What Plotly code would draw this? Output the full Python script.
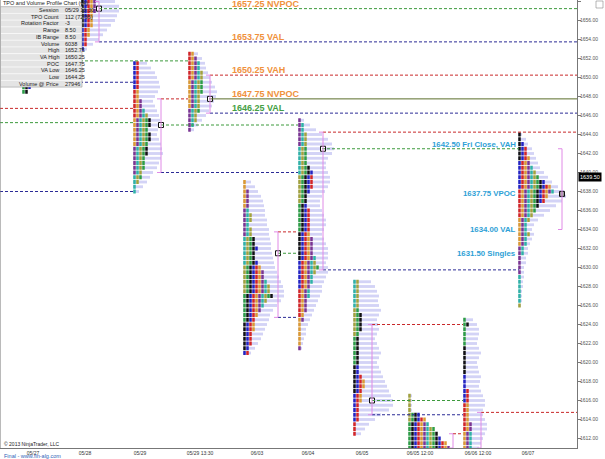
import plotly.graph_objects as go

# ---------------- data ----------------
session_labels = ["05/27", "05/28", "05/29", "05/29 13:30", "06/03", "06/04",
                  "06/05", "06/05 12:00", "06/06 12:00", "06/07"]
tick_pos = [33, 85, 140, 200, 257, 308, 362, 420, 478, 528]
session_x = [22, 81, 133, 188, 243, 298, 353, 408, 463, 518]
profile_high = [1649.0, 1658.0, 1651.5, 1652.5, 1639.0, 1645.5, 1628.5, 1616.5, 1624.5, 1644.0]

# TPO counts per 0.5-point row, from the profile high downwards
tpo_0527 = [3, 2]
tpo_0528 = [5, 5, 5, 4, 4, 4, 3, 3, 2, 2, 1]
tpo_0529 = [2, 2, 2, 2, 2, 2, 2, 2, 3, 3, 4, 5, 6, 6, 5, 6, 6, 5, 5, 5, 4, 4, 4, 3, 3, 2, 1, 1]
tpo_0529b = [2, 3, 4, 4, 5, 5, 5, 5, 5, 4, 4, 4, 4, 3, 3, 2, 1]
tpo_0603 = [1, 1, 2, 2, 2, 2, 2, 3, 3, 2, 3, 3, 4, 4, 5, 4, 4, 5, 6, 7, 7, 8, 9, 9, 10, 8, 7, 6,
            5, 4, 4, 4, 3, 3, 3, 2, 2]
tpo_0604 = [1, 2, 2, 3, 3, 3, 3, 3, 3, 3, 4, 5, 5, 5, 5, 4, 3, 3, 3, 4, 4, 4, 4, 4, 4, 5, 5, 5,
            5, 6, 6, 7, 6, 5, 5, 4, 4, 4, 3, 3, 3, 2, 2, 1, 1, 1, 1, 1, 1]
tpo_0605 = [2, 2, 2, 2, 2, 2, 2, 3, 3, 3, 3, 2, 2, 2, 2, 2, 2, 2, 2, 2, 3, 4, 4, 3, 3, 3, 2, 2,
            2, 2, 1, 1, 1]
tpo_0605b = [1, 1, 1, 1, 4, 6, 7, 9, 10, 11, 13, 14]
tpo_0606 = [1, 2, 1, 1, 1, 1, 1, 1, 1, 1, 1, 1, 1, 1, 1, 2, 2, 2, 2, 2, 2, 2, 3, 3, 3, 3, 3, 3]
tpo_0607 = [1, 1, 2, 3, 3, 4, 4, 5, 6, 7, 9, 11, 12, 10, 9, 7, 6, 5, 4, 3, 3, 4, 3, 3, 2, 2, 1,
            1, 1, 1, 1, 1, 1, 1, 1, 1, 1]

# volume-at-price bar lengths per row
vol_0527 = [8, 5]
vol_0528 = [34, 38, 38, 36, 34, 30, 26, 22, 18, 12, 6]
vol_0529 = [14, 18, 22, 24, 26, 27, 25, 22, 20, 22, 24, 26, 27, 26, 25, 24, 26, 28, 29, 30, 28,
            26, 24, 20, 17, 14, 10, 6]
vol_0529b = [10, 14, 17, 18, 20, 22, 24, 27, 29, 28, 26, 24, 21, 18, 14, 10, 6]
vol_0603 = [8, 12, 15, 18, 20, 21, 22, 22, 24, 24, 26, 26, 27, 28, 28, 29, 30, 31, 32, 34, 36,
            38, 40, 41, 41, 38, 34, 30, 27, 26, 24, 22, 20, 18, 15, 12, 8]
vol_0604 = [6, 12, 18, 24, 30, 34, 36, 34, 30, 28, 28, 30, 32, 32, 30, 27, 24, 22, 22, 24, 26,
            28, 28, 26, 24, 26, 28, 30, 30, 30, 28, 30, 30, 28, 26, 24, 24, 22, 20, 18, 16, 14,
            12, 10, 8, 8, 6, 5, 4]
vol_0605 = [18, 22, 24, 26, 25, 26, 28, 26, 24, 25, 26, 24, 22, 24, 26, 28, 26, 24, 26, 28, 30,
            32, 34, 36, 38, 40, 40, 36, 28, 22, 16, 12, 8]
vol_0605b = [4, 4, 4, 4, 8, 10, 12, 14, 16, 18, 20, 22]
vol_0606 = [10, 14, 16, 16, 15, 14, 16, 18, 16, 14, 15, 16, 18, 17, 16, 18, 20, 22, 22, 20, 20,
            22, 24, 24, 22, 20, 18, 16]
vol_0607 = [4, 8, 10, 14, 16, 18, 20, 22, 26, 30, 34, 40, 46, 48, 44, 38, 32, 26, 20, 16, 14,
            16, 14, 12, 10, 10, 8, 8, 6, 6, 6, 5, 5, 4, 4, 4, 3]

tpo_counts = [tpo_0527, tpo_0528, tpo_0529, tpo_0529b, tpo_0603, tpo_0604, tpo_0605,
              tpo_0605b, tpo_0606, tpo_0607]
vol_counts = [vol_0527, vol_0528, vol_0529, vol_0529b, vol_0603, vol_0604, vol_0605,
              vol_0605b, vol_0606, vol_0607]

# value areas / POC per profile
poc_price = [None, 1657.25, 1645.0, 1647.75, 1631.5, 1642.5, 1616.0, None, None, 1637.75]
va_high = [None, 1658.0, 1647.75, 1650.25, 1633.75, 1644.25, 1624.0, 1612.5, 1614.75, 1642.5]
va_low = [None, 1653.75, 1640.0, 1646.25, 1624.75, 1629.75, 1614.5, 1611.0, 1611.0, 1634.0]
bracket_x = [None, 99, 161, 210, 278, 323, 372, 453, 481, 562]

# extended reference levels
level_price = [1657.25, 1653.75, 1651.75, 1649.5, 1650.25, 1647.75, 1647.75, 1646.75, 1645.25,
               1646.25, 1645.0, 1640.0, 1644.25, 1642.5, 1638.0, 1633.75, 1631.5, 1624.75,
               1629.75, 1624.0, 1616.0, 1614.5, 1614.75, 1612.5]
level_kind = ["poc", "val", "poc", "val", "vah", "npoc", "vah", "vah", "poc", "val", "poc", "val",
              "vah", "poc", "val", "vah", "poc", "val", "val", "vah", "poc", "val", "vah", "vah"]
level_x0 = [99, 99, 30, 30, 210, 209, 161, 0, 0, 210, 161, 161, 323, 322, 0, 278, 278, 278, 323,
            372, 372, 372, 481, 453]
level_x1 = [577, 577, 188, 133, 577, 577, 188, 133, 133, 577, 298, 298, 577, 519, 133, 298, 298,
            298, 519, 463, 463, 463, 577, 463]

last_price = 1639.50

table_labels = ["Session", "TPO Count", "Rotation Factor", "Range", "IB Range", "Volume",
                "High", "VA High", "POC", "VA Low", "Low", "Volume @ Price"]
table_values = ["05/29 13:30", "112 (72/35)", "-3", "8.50", "8.50", "6038", "1652.75",
                "1650.25", "1647.75", "1646.25", "1644.25", "27946"]

# ---------------- figure ----------------
W, H = 605, 459
ML, MR, MT, MB = 0, 28, 0, 11
PW, PH = W - ML - MR, H - MT - MB
Y_TOP = 1656 + 20.5 / 9.5
Y_BOT = 1656 - (PH - 20.5) / 9.5

palette = ["#2e9e44", "#111111", "#2323c2", "#d42525", "#dc9a32", "#7b3590", "#2fb3a6",
           "#a3a33c"]
NC = len(palette)

fig = go.Figure()

# volume profiles (behind)
for i in range(len(session_x)):
    prices = [profile_high[i] - 0.5 * r for r in range(len(vol_counts[i]))]
    fig.add_trace(go.Bar(orientation="h", y=prices, x=vol_counts[i], base=session_x[i],
                         width=0.3, marker=dict(color="#d3d3f6", line=dict(width=0)),
                         hoverinfo="skip"))

# TPO blocks (one bar per letter cell)
for i in range(len(session_x)):
    counts = tpo_counts[i]
    ys, bases, cols = [], [], []
    for r, c in enumerate(counts):
        price = profile_high[i] - 0.5 * r
        for k in range(c):
            ys.append(price)
            bases.append(session_x[i] + 3 * k + 0.25)
            cols.append(palette[((r // 6) + k + i) % NC])
    fig.add_trace(go.Bar(orientation="h", y=ys, x=[2.5] * len(ys), base=bases, width=0.42,
                         marker=dict(color=cols, line=dict(width=0)), hoverinfo="skip"))

shapes = []
kind_color = {"vah": "#c8282a", "poc": "#3d9a3d", "val": "#2b2b96", "npoc": "#5b6e2a"}
for p, k, a, b in zip(level_price, level_kind, level_x0, level_x1):
    shapes.append(dict(type="line", xref="x", yref="y", x0=a, x1=b, y0=p, y1=p,
                       line=dict(color=kind_color[k], width=1,
                                 dash="solid" if k == "npoc" else "3px,2px")))

# value-area brackets
for i in range(len(session_x)):
    if bracket_x[i] is None:
        continue
    bx = bracket_x[i]
    lc = dict(color="#e08ae6", width=1)
    shapes.append(dict(type="line", xref="x", yref="y", x0=bx, x1=bx, y0=va_low[i],
                       y1=va_high[i], line=lc))
    for yy in (va_low[i], va_high[i]):
        shapes.append(dict(type="line", xref="x", yref="y", x0=bx - 4, x1=bx, y0=yy, y1=yy,
                           line=lc))

# POC markers
px_, py_, pc_ = [], [], []
for i in range(len(session_x)):
    if poc_price[i] is not None:
        px_.append(bracket_x[i])
        py_.append(poc_price[i])
        pc_.append("#9a9a9a" if i == len(session_x) - 1 else "#ffffff")
fig.add_trace(go.Scatter(x=px_, y=py_, mode="markers", hoverinfo="skip",
                         marker=dict(symbol="square", size=5, color=pc_,
                                     line=dict(color="#111111", width=1))))


def xp(px):
    return (px - ML) / PW


def yp(py):
    return 1 - (py - MT) / PH


# left border
shapes.append(dict(type="line", xref="paper", yref="paper", x0=0, x1=0, y0=0, y1=1,
                   line=dict(color="#777777", width=1)))

# info table
row_h = 6.7
tbl_top = 6.7
tbl_bot = tbl_top + row_h * len(table_labels)
shapes.append(dict(type="rect", xref="paper", yref="paper", x0=xp(0.5), x1=xp(82),
                   y0=yp(tbl_bot), y1=yp(tbl_top), fillcolor="#e4e4e4",
                   line=dict(color="#9a9a9a", width=0.6), layer="above"))
for j in range(1, len(table_labels)):
    yy = tbl_top + row_h * j
    shapes.append(dict(type="line", xref="paper", yref="paper", x0=xp(1), x1=xp(81.5),
                       y0=yp(yy), y1=yp(yy), line=dict(color="#fbfbfb", width=0.8),
                       layer="above"))
# close icon
shapes.append(dict(type="rect", xref="paper", yref="paper", x0=xp(596), x1=xp(603),
                   y0=yp(8), y1=yp(1), fillcolor="#ffffff",
                   line=dict(color="#888888", width=0.6)))

ann = []
tfont = dict(family="Liberation Sans, Arial, sans-serif", size=5.5, color="#222222")
ann.append(dict(xref="paper", yref="paper", x=xp(1), y=yp(3.3), text="TPO and Volume Profile Chart (v4)",
                showarrow=False, xanchor="left", yanchor="middle", font=tfont))
for j, (lab, val) in enumerate(zip(table_labels, table_values)):
    yy = tbl_top + row_h * (j + 0.5)
    ann.append(dict(xref="paper", yref="paper", x=xp(61), y=yp(yy), text=lab, showarrow=False,
                    xanchor="right", yanchor="middle", font=tfont))
    ann.append(dict(xref="paper", yref="paper", x=xp(63), y=yp(yy), text=val, showarrow=False,
                    xanchor="left", yanchor="middle", font=tfont))

bfont = "Liberation Sans, Arial, sans-serif"
orange = "#f0913c"
green = "#44a044"
cyan = "#2e9fd6"
for txt, lvl, col in [("1657.25 NVPOC", 1657.25, orange), ("1653.75 VAL", 1653.75, orange),
                      ("1650.25 VAH", 1650.25, orange), ("1647.75 NVPOC", 1647.75, orange),
                      ("1646.25 VAL", 1646.25, green)]:
    ann.append(dict(xref="x", yref="y", x=231, y=lvl, text="<b>%s</b>" % txt, showarrow=False,
                    xanchor="left", yanchor="bottom", borderpad=0, yshift=-1,
                    font=dict(family=bfont, size=9, color=col)))
ann.append(dict(xref="x", yref="y", x=517, y=1642.5, text="<b>1642.50 Fri Close, VAH</b>",
                showarrow=False, xanchor="right", yanchor="bottom", borderpad=0, yshift=-1,
                font=dict(family=bfont, size=7.8, color=cyan)))
for txt, lvl in [("1637.75 VPOC", 1637.75), ("1634.00 VAL", 1634.0),
                 ("1631.50 Singles", 1631.5)]:
    ann.append(dict(xref="x", yref="y", x=517, y=lvl, text="<b>%s</b>" % txt, showarrow=False,
                    xanchor="right", yanchor="middle", borderpad=0,
                    font=dict(family=bfont, size=7.8, color=cyan)))

# last price label
ann.append(dict(xref="paper", yref="y", x=1, y=last_price, text="%.2f" % last_price,
                showarrow=False, xanchor="left", yanchor="middle", xshift=1,
                bgcolor="#000000", borderpad=1,
                font=dict(family=bfont, size=5.5, color="#ffffff")))

ann.append(dict(xref="paper", yref="paper", x=xp(2), y=yp(443.5), text="© 2013 NinjaTrader, LLC",
                showarrow=False, xanchor="left", yanchor="middle",
                font=dict(family=bfont, size=5, color="#222222")))
ann.append(dict(xref="paper", yref="paper", x=xp(2), y=yp(456), text="Final - www.fin-alg.com",
                showarrow=False, xanchor="left", yanchor="middle",
                font=dict(family=bfont, size=5.5, color="#2f63b8")))

fig.update_layout(
    width=W, height=H,
    margin=dict(l=ML, r=MR, t=MT, b=MB, autoexpand=False),
    paper_bgcolor="#ffffff", plot_bgcolor="#ffffff", showlegend=False, barmode="overlay",
    shapes=shapes, annotations=ann,
    xaxis=dict(range=[0, PW], showgrid=False, zeroline=False, showline=True,
               linecolor="#777777", linewidth=1, tickvals=tick_pos, ticktext=session_labels,
               ticks="", ticklabelstandoff=0,
               tickfont=dict(family=bfont, size=5, color="#333333"), fixedrange=True),
    yaxis=dict(range=[Y_BOT, Y_TOP], side="right", showgrid=False, zeroline=False,
               showline=True, linecolor="#777777", linewidth=1, dtick=2, tick0=1612,
               tickformat=".2f", ticks="outside", ticklen=3, tickcolor="#777777",
               ticklabelstandoff=-2,
               tickfont=dict(family=bfont, size=5, color="#555555"), fixedrange=True),
)

fig.write_html("out.html", config={"displayModeBar": False},
               post_script="document.body.style.margin='0px';document.body.style.overflow='hidden';")
